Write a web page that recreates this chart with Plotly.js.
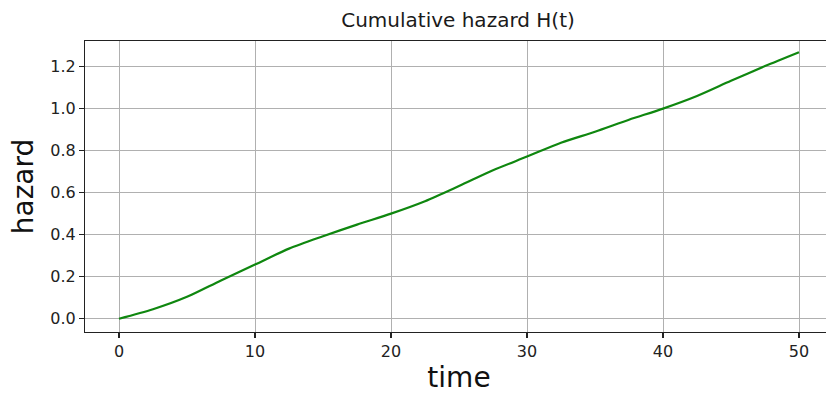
<!DOCTYPE html>
<html>
<head>
<meta charset="utf-8">
<script src="https://cdn.plot.ly/plotly-3.0.1.min.js"></script>
<style>
  html, body { margin: 0; padding: 0; overflow: hidden; background: #fff; }
  #chart { width: 840px; height: 394px; }
</style>
</head>
<body>
<div id="chart"></div>
<script>
// Data
const time = [0, 2.5, 5, 7.5, 10, 12.5, 15, 17.5, 20, 22.5, 25, 27.5, 30, 32.5, 35, 37.5, 40, 42.5, 45, 47.5, 50];
const hazard = [0.0, 0.045, 0.104, 0.182, 0.257, 0.333, 0.392, 0.447, 0.499, 0.558, 0.630, 0.705, 0.770, 0.836, 0.888, 0.945, 0.998, 1.058, 1.130, 1.200, 1.266];
const xTicks = [0, 10, 20, 30, 40, 50];
const yTicks = [0.0, 0.2, 0.4, 0.6, 0.8, 1.0, 1.2];
const yTickText = ["0.0", "0.2", "0.4", "0.6", "0.8", "1.0", "1.2"];

const FONT = "DejaVu Sans, sans-serif";

const trace = {
  x: time,
  y: hazard,
  type: "scatter",
  mode: "lines",
  line: { color: "#0f870f", width: 2.2, shape: "spline", smoothing: 0.8 },
  hoverinfo: "skip"
};

const layout = {
  width: 840,
  height: 394,
  margin: { l: 85, r: 7, t: 41, b: 62 },
  paper_bgcolor: "#ffffff",
  plot_bgcolor: "#ffffff",
  showlegend: false,
  font: { family: FONT, color: "#262626" },
  title: {
    text: "Cumulative hazard H(t)",
    font: { family: FONT, size: 20, color: "#1a1a1a" },
    x: (458 / 840),
    xref: "container",
    xanchor: "center",
    y: 1 - 20 / 394,
    yref: "container",
    yanchor: "middle"
  },
  xaxis: {
    range: [-2.5, 52.5],
    tickvals: xTicks,
    ticktext: xTicks.map(String),
    ticks: "outside",
    ticklen: 5,
    tickwidth: 1.1,
    tickcolor: "#222",
    tickfont: { family: FONT, size: 16, color: "#222" },
    showgrid: true,
    gridcolor: "#b0b0b0",
    gridwidth: 1,
    zeroline: false,
    showline: true,
    linecolor: "#222",
    linewidth: 1.1,
    mirror: true,
    title: { text: "time", font: { family: FONT, size: 28, color: "#111" }, standoff: 11 }
  },
  yaxis: {
    range: [-0.063, 1.319],
    tickvals: yTicks,
    ticktext: yTickText,
    ticks: "outside",
    ticklen: 5,
    tickwidth: 1.1,
    tickcolor: "#222",
    tickfont: { family: FONT, size: 16, color: "#222" },
    showgrid: true,
    gridcolor: "#b0b0b0",
    gridwidth: 1,
    zeroline: false,
    showline: true,
    linecolor: "#222",
    linewidth: 1.1,
    mirror: true,
    title: { text: "hazard", font: { family: FONT, size: 28, color: "#111" }, standoff: 8 }
  }
};

Plotly.newPlot("chart", [trace], layout, { displayModeBar: false, staticPlot: true });
</script>
</body>
</html>
